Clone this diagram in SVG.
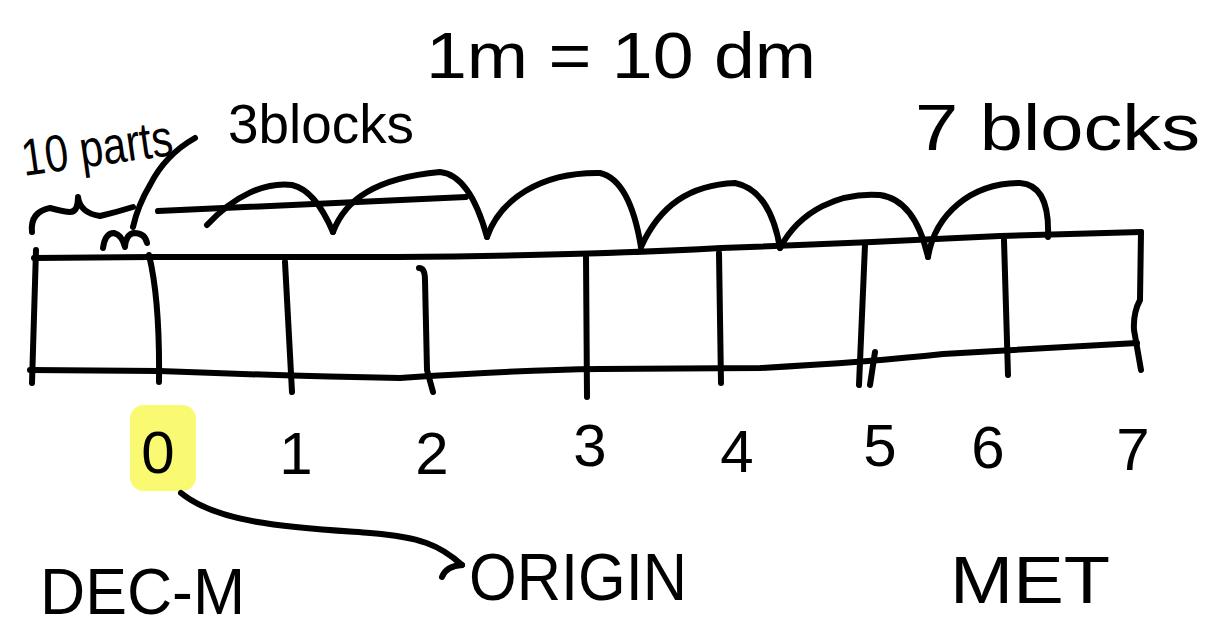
<svg xmlns="http://www.w3.org/2000/svg" width="1230" height="630" viewBox="0 0 1230 630">
  <style>
    .ink { fill: none; stroke: #000; stroke-width: 6; stroke-linecap: round; stroke-linejoin: round; }
    .t { font-family: "Liberation Sans", Arial, sans-serif; fill: #000; }
    .num { font-family: "Liberation Sans", Arial, sans-serif; fill: #000; font-size: 60px; text-anchor: middle; }
  </style>
  <rect width="1230" height="630" fill="#fff"/>

  <g id="ruler">
    <path class="ink" d="M34,258 L151,257 L397,257 Q600,255 721,248 Q860,243 1000,236 L1141,232"/>
    <path class="ink" d="M30,370 L159,371 Q290,376 400,378 Q520,370 600,369 L760,368 Q870,362 943,354 L1137,343"/>
    <path class="ink" d="M36,250 L32,383"/>
    <path class="ink" d="M149,255 Q160,300 159,382"/>
    <path class="ink" d="M285,262 L292,392"/>
    <path class="ink" d="M419,268 Q425,268 425,280 L427,370 L433,392"/>
    <path class="ink" d="M586,256 L587,397"/>
    <path class="ink" d="M719,253 L721,383"/>
    <path class="ink" d="M865,245 L859,385 M875,352 L870,385"/>
    <path class="ink" d="M1004,240 L1008,375"/>
    <path class="ink" d="M1141,232 L1140,300 Q1133,313 1134,330 L1141,370"/>
  </g>

  <g id="blocks-arcs">
    <path class="ink" d="M158,211 Q300,205 466,197"/>
    <path class="ink" d="M207,225 C235,195 265,182 292,185 Q315,190 333,232"/>
    <path class="ink" d="M333,232 C345,200 375,178 440,172 Q470,175 487,237"/>
    <path class="ink" d="M487,237 C500,200 540,172 600,173 Q630,180 641,247"/>
    <path class="ink" d="M641,247 C660,205 690,185 735,183 Q770,190 780,248"/>
    <path class="ink" d="M780,248 C800,210 840,192 880,195 Q915,200 928,257"/>
    <path class="ink" d="M928,257 C935,215 970,183 1020,183 Q1050,185 1048,237"/>
  </g>

  <g id="ten-parts-brace">
    <path class="ink" d="M32,232 Q30,212 50,208 Q65,212 70,212 Q78,212 78,197 Q80,213 100,216 Q117,212 133,207"/>
    <path class="ink" d="M195,138 Q165,155 150,185 Q138,205 133,227"/>
    <path class="ink" d="M103,248 Q105,233 114,233 Q122,235 125,247 Q126,234 134,233 Q145,233 147,243"/>
  </g>

  <g id="title"><text class="t" x="426" y="78" font-size="64" textLength="390" lengthAdjust="spacingAndGlyphs">1m = 10 dm</text></g>
  <g id="label-10parts"><text class="t" x="24" y="176" font-size="52" textLength="152" lengthAdjust="spacingAndGlyphs" transform="rotate(-8 24 176)">10 parts</text></g>
  <g id="label-3blocks"><text class="t" x="228" y="143" font-size="56" textLength="186" lengthAdjust="spacingAndGlyphs">3blocks</text></g>
  <g id="label-7blocks"><text class="t" x="915" y="150" font-size="64" textLength="285" lengthAdjust="spacingAndGlyphs">7 blocks</text></g>

  <g id="origin-highlight"><rect x="130" y="405" width="66" height="86" rx="14" fill="#fafa72"/></g>

  <g id="numbers">
    <text class="num" x="158" y="473">0</text>
    <text class="num" x="296" y="474">1</text>
    <text class="num" x="432" y="474">2</text>
    <text class="num" x="590" y="466">3</text>
    <text class="num" x="737" y="472">4</text>
    <text class="num" x="880" y="466">5</text>
    <text class="num" x="988" y="468">6</text>
    <text class="num" x="1133" y="470">7</text>
  </g>

  <g id="connectors">
    <path class="ink" d="M181,493 C220,525 300,528 370,533 C420,537 440,545 462,565"/>
    <path class="ink" d="M442,577 Q446,566 462,565"/>
  </g>

  <g id="label-decm"><text class="t" x="40" y="614" font-size="64" textLength="205" lengthAdjust="spacingAndGlyphs">DEC-M</text></g>
  <g id="label-origin"><text class="t" x="469" y="600" font-size="66" textLength="218" lengthAdjust="spacingAndGlyphs">ORIGIN</text></g>
  <g id="label-met"><text class="t" x="950" y="603" font-size="66" textLength="160" lengthAdjust="spacingAndGlyphs">MET</text></g>
</svg>
